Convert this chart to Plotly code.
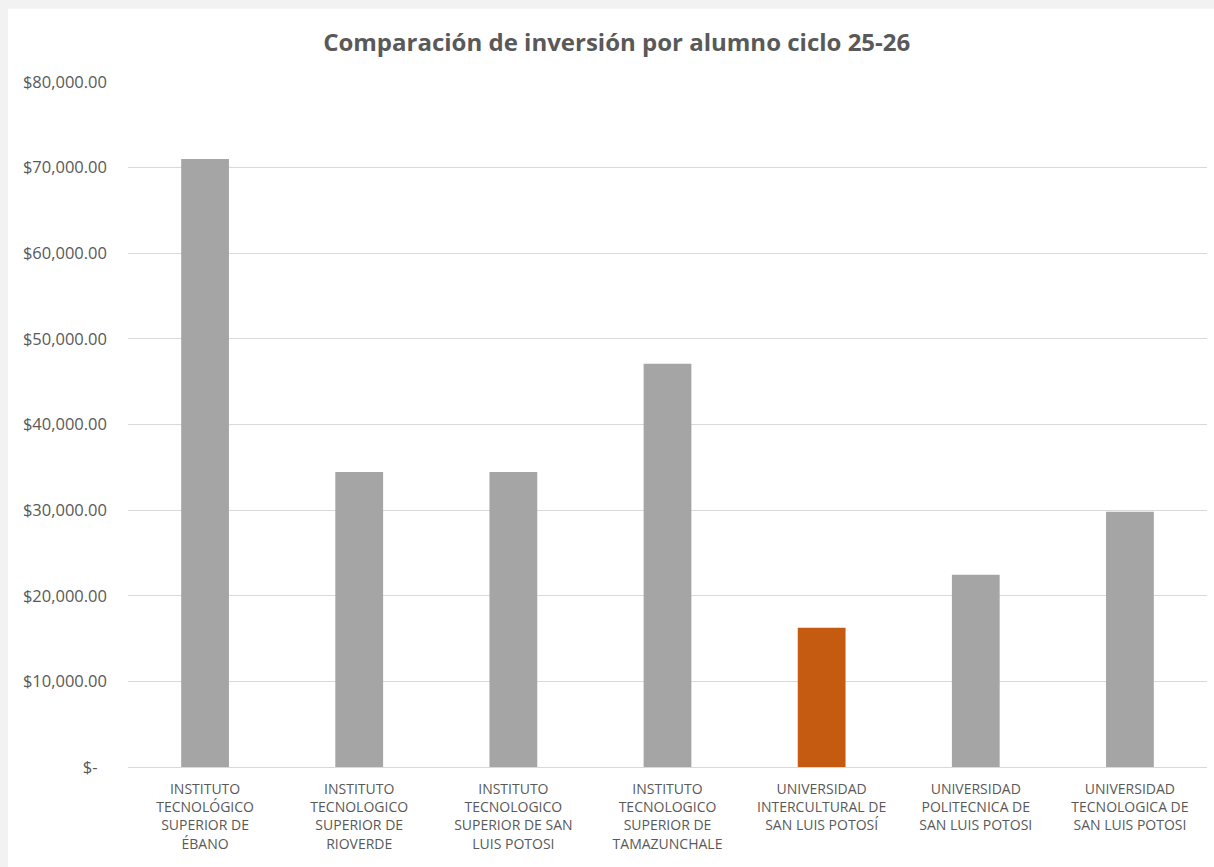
import plotly.graph_objects as go

categories = [
    "INSTITUTO<br>TECNOLÓGICO<br>SUPERIOR DE<br>ÉBANO",
    "INSTITUTO<br>TECNOLOGICO<br>SUPERIOR DE<br>RIOVERDE",
    "INSTITUTO<br>TECNOLOGICO<br>SUPERIOR DE SAN<br>LUIS POTOSI",
    "INSTITUTO<br>TECNOLOGICO<br>SUPERIOR DE<br>TAMAZUNCHALE",
    "UNIVERSIDAD<br>INTERCULTURAL DE<br>SAN LUIS POTOSÍ",
    "UNIVERSIDAD<br>POLITECNICA DE<br>SAN LUIS POTOSI",
    "UNIVERSIDAD<br>TECNOLOGICA DE<br>SAN LUIS POTOSI",
]
values = [71000, 34450, 34450, 47100, 16250, 22450, 29800]
highlight = "UNIVERSIDAD<br>INTERCULTURAL DE<br>SAN LUIS POTOSÍ"

tick_vals = [0, 10000, 20000, 30000, 40000, 50000, 60000, 70000, 80000]
tick_text = ["$-" + "\u2007", "$10,000.00", "$20,000.00", "$30,000.00", "$40,000.00",
             "$50,000.00", "$60,000.00", "$70,000.00", "$80,000.00"]

GRAY = "#a5a5a5"
ORANGE = "#c55a11"
colors = [ORANGE if c == highlight else GRAY for c in categories]

FONT = "Open Sans, Lato, sans-serif"

fig = go.Figure(go.Bar(
    x=categories, y=values,
    marker=dict(color=colors, line=dict(width=0)),
    hovertemplate="%{y:$,.2f}<extra></extra>",
))

fig.update_layout(
    width=1214, height=867,
    margin=dict(l=128, r=7, t=82, b=100),
    paper_bgcolor="#f2f2f2",
    plot_bgcolor="rgba(0,0,0,0)",
    bargap=0.69,
    showlegend=False,
    title=dict(text="<b>Comparación de inversión por alumno ciclo 25-26</b>",
               x=0.508, xanchor="center", y=0.951, yanchor="middle",
               font=dict(family=FONT, size=24, color="#595959")),
    font=dict(family=FONT, size=14, color="#595959"),
    shapes=[dict(type="rect", xref="paper", yref="paper",
                 x0=-0.1112, x1=1.01, y0=-0.147, y1=1.107,
                 fillcolor="white", line=dict(width=0), layer="below")],
)
fig.update_xaxes(showgrid=False, showline=False, ticks="", ticklabelstandoff=12,
                 tickfont=dict(family=FONT, size=14, color="#595959"))
fig.update_yaxes(range=[0, 80000], tickvals=tick_vals, ticktext=tick_text,
                 showgrid=True, gridcolor="#d9d9d9", gridwidth=1,
                 zeroline=True, zerolinecolor="#d9d9d9", zerolinewidth=1,
                 ticks="", ticklabelstandoff=20,
                 tickfont=dict(family=FONT, size=16.5, color="#595959"))

fig.write_html("out.html", config={"displayModeBar": False},
               post_script="document.body.style.margin='0';document.body.style.overflow='hidden';")
